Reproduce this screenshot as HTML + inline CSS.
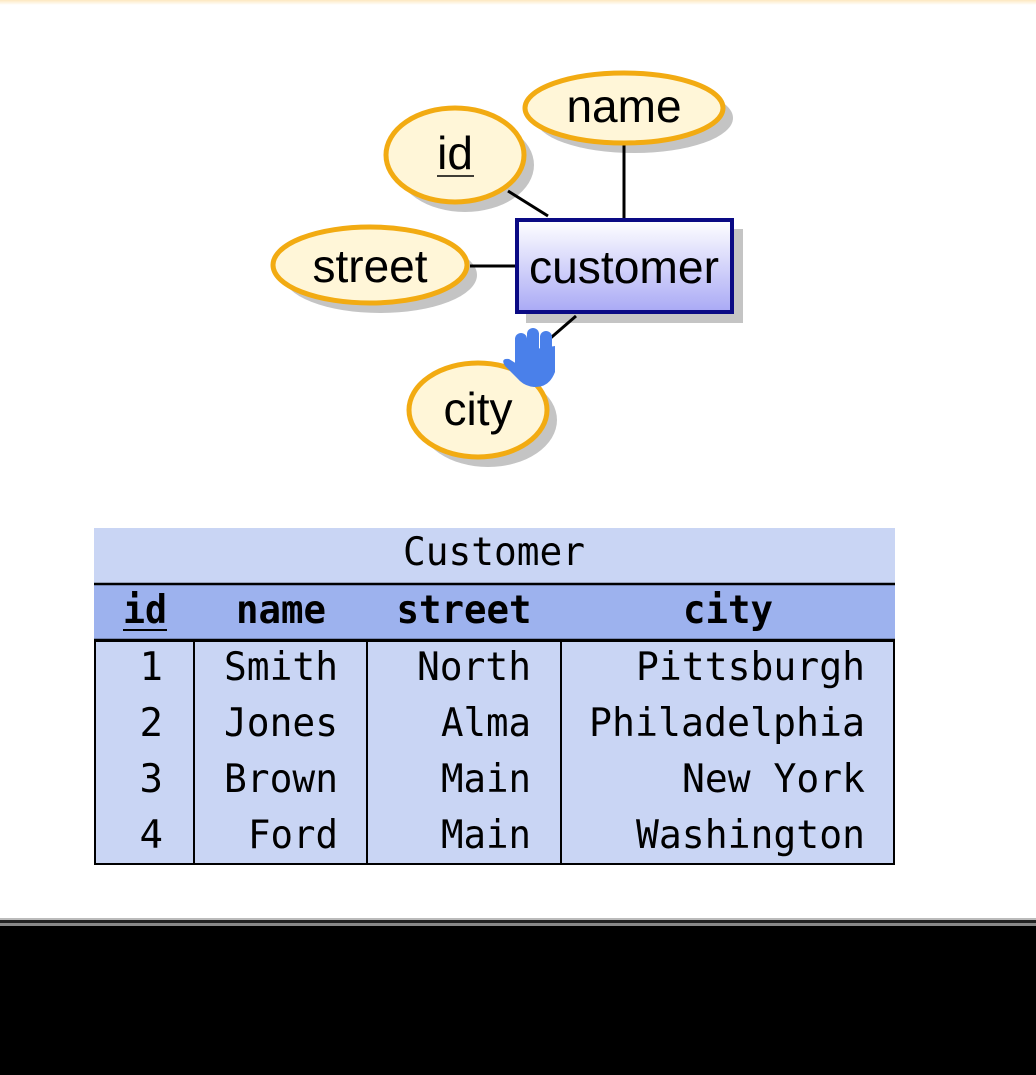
<!DOCTYPE html>
<html><head><meta charset="utf-8"><style>
html,body{margin:0;padding:0;background:#fff;}
svg{display:block;}
</style></head><body>
<svg width="1036" height="1075" viewBox="0 0 1036 1075" xmlns="http://www.w3.org/2000/svg">
<defs>
<linearGradient id="g" x1="0" y1="0" x2="0" y2="1"><stop offset="0" stop-color="#ffffff"/><stop offset="1" stop-color="#a9a9f5"/></linearGradient>
<linearGradient id="top" x1="0" y1="0" x2="0" y2="1"><stop offset="0" stop-color="#fde8c0"/><stop offset="1" stop-color="#ffffff"/></linearGradient>
</defs>
<rect x="0" y="0" width="1036" height="5" fill="url(#top)"/>
<g fill="#c4c4c4">
<ellipse cx="634" cy="118" rx="99" ry="35"/>
<ellipse cx="465" cy="165" rx="69" ry="47"/>
<ellipse cx="380" cy="275" rx="97" ry="38"/>
<ellipse cx="488" cy="420" rx="69" ry="47"/>
<rect x="526" y="229" width="217" height="94"/>
</g>
<g stroke="#000" stroke-width="3">
<line x1="624" y1="145" x2="624" y2="219"/>
<line x1="508" y1="191" x2="548" y2="216"/>
<line x1="470" y1="266" x2="516" y2="266"/>
<line x1="576" y1="316" x2="546" y2="342"/>
</g>
<g fill="#fff6d8" stroke="#f2ab12" stroke-width="5">
<ellipse cx="624" cy="108" rx="99" ry="35"/>
<ellipse cx="455" cy="155" rx="69" ry="47"/>
<ellipse cx="370" cy="265" rx="97" ry="38"/>
<ellipse cx="478" cy="410" rx="69" ry="47"/>
</g>
<rect x="517" y="220" width="215" height="92" fill="url(#g)" stroke="#0a0a84" stroke-width="4"/>
<g font-family="Liberation Sans, sans-serif" font-size="46" fill="#000" text-anchor="middle">
<text x="624" y="122">name</text>
<text x="455" y="169">id</text>
<text x="370" y="282">street</text>
<text x="478" y="425">city</text>
<text x="624" y="283" textLength="190" lengthAdjust="spacingAndGlyphs">customer</text>
</g>
<line x1="437" y1="176" x2="474" y2="176" stroke="#000" stroke-width="1.5"/>
<g fill="#4a80ea">
<rect x="515" y="333" width="12" height="36" rx="6"/>
<rect x="527" y="328" width="12" height="38" rx="6"/>
<rect x="540" y="331" width="12" height="36" rx="6"/>
<path d="M516 352 L555 346 L555 372 Q549 388 534 387 Q524 386 518 379 L505 366 Q500 358 509 359 L517 364 Z"/>
</g>
<rect x="94" y="528" width="801" height="56" fill="#c9d5f4"/>
<rect x="94" y="584" width="801" height="56" fill="#9db2ee"/>
<rect x="95" y="641" width="799" height="223" fill="#c9d5f4" stroke="#000" stroke-width="2"/>
<line x1="94" y1="584" x2="895" y2="584" stroke="#000" stroke-width="2.5"/>
<line x1="94" y1="640" x2="895" y2="640" stroke="#000" stroke-width="2.5"/>
<g stroke="#000" stroke-width="2">
<line x1="194" y1="640" x2="194" y2="864"/>
<line x1="367" y1="640" x2="367" y2="864"/>
<line x1="561" y1="640" x2="561" y2="864"/>
</g>
<g font-family="DejaVu Sans Mono, Liberation Mono, monospace" font-size="39" fill="#000">
<text x="494" y="565" text-anchor="middle" textLength="182" lengthAdjust="spacingAndGlyphs">Customer</text>
<g font-weight="bold" text-anchor="middle">
<text x="145" y="623" textLength="44" lengthAdjust="spacingAndGlyphs">id</text>
<text x="281" y="623" textLength="90" lengthAdjust="spacingAndGlyphs">name</text>
<text x="464" y="623" textLength="135" lengthAdjust="spacingAndGlyphs">street</text>
<text x="728" y="623" textLength="90" lengthAdjust="spacingAndGlyphs">city</text>
</g>
<g text-anchor="end">
<text x="163" y="680">1</text><text x="338" y="680" textLength="114" lengthAdjust="spacingAndGlyphs">Smith</text><text x="531" y="680" textLength="114" lengthAdjust="spacingAndGlyphs">North</text><text x="865" y="680" textLength="229" lengthAdjust="spacingAndGlyphs">Pittsburgh</text>
<text x="163" y="736">2</text><text x="338" y="736" textLength="114" lengthAdjust="spacingAndGlyphs">Jones</text><text x="531" y="736" textLength="90" lengthAdjust="spacingAndGlyphs">Alma</text><text x="865" y="736" textLength="276" lengthAdjust="spacingAndGlyphs">Philadelphia</text>
<text x="163" y="792">3</text><text x="338" y="792" textLength="114" lengthAdjust="spacingAndGlyphs">Brown</text><text x="531" y="792" textLength="90" lengthAdjust="spacingAndGlyphs">Main</text><text x="865" y="792" textLength="183" lengthAdjust="spacingAndGlyphs">New York</text>
<text x="163" y="848">4</text><text x="338" y="848" textLength="90" lengthAdjust="spacingAndGlyphs">Ford</text><text x="531" y="848" textLength="90" lengthAdjust="spacingAndGlyphs">Main</text><text x="865" y="848" textLength="229" lengthAdjust="spacingAndGlyphs">Washington</text>
</g>
</g>
<line x1="123" y1="630" x2="167" y2="630" stroke="#000" stroke-width="2"/>
<rect x="0" y="918" width="1036" height="2" fill="#bbb"/>
<rect x="0" y="920" width="1036" height="3" fill="#222"/>
<rect x="0" y="923" width="1036" height="3" fill="#888"/>
<rect x="0" y="926" width="1036" height="149" fill="#000"/>
</svg>
</body></html>
